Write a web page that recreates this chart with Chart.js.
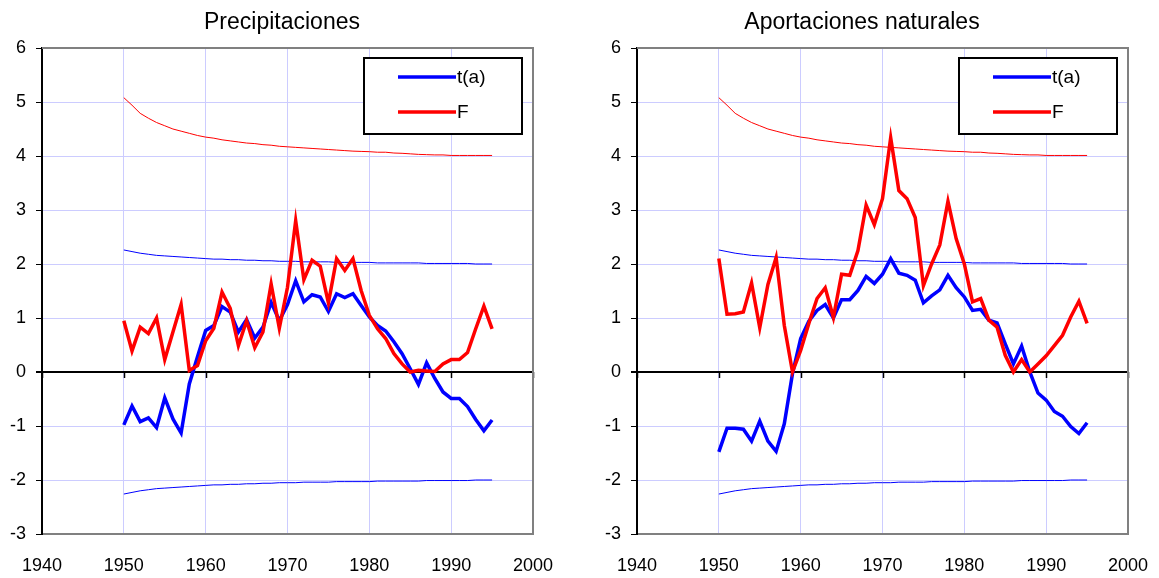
<!DOCTYPE html>
<html>
<head>
<meta charset="utf-8">
<script src="https://cdn.jsdelivr.net/npm/chart.js@4/dist/chart.umd.min.js"></script>
<style>
    body { margin: 0; background: #fff; }
    .box { position: absolute; top: 0; width: 560px; height: 578px; }
    #boxLeft { left: 0; }
    #boxRight { left: 595px; }
</style>
</head>
<body>
<div class="box" id="boxLeft"><canvas id="chartPrec"></canvas></div>
<div class="box" id="boxRight"><canvas id="chartApor"></canvas></div>
<script>
// years of the series
const years = [1950, 1951, 1952, 1953, 1954, 1955, 1956, 1957, 1958, 1959,
    1960, 1961, 1962, 1963, 1964, 1965, 1966, 1967, 1968, 1969,
    1970, 1971, 1972, 1973, 1974, 1975, 1976, 1977, 1978, 1979,
    1980, 1981, 1982, 1983, 1984, 1985, 1986, 1987, 1988, 1989,
    1990, 1991, 1992, 1993, 1994, 1995];

const xTicks = [1940, 1950, 1960, 1970, 1980, 1990, 2000];
const yTicks = [-3, -2, -1, 0, 1, 2, 3, 4, 5, 6];

// Precipitaciones
const precT = [-0.98, -0.63, -0.92, -0.85, -1.03, -0.48, -0.87, -1.13, -0.22, 0.28,
    0.77, 0.86, 1.21, 1.11, 0.74, 0.97, 0.63, 0.83, 1.29, 0.95,
    1.25, 1.69, 1.30, 1.43, 1.39, 1.12, 1.45, 1.38, 1.45, 1.23,
    1.02, 0.86, 0.76, 0.56, 0.34, 0.06, -0.23, 0.17, -0.12, -0.37,
    -0.49, -0.49, -0.64, -0.88, -1.09, -0.89];
const precF = [0.95, 0.39, 0.83, 0.71, 1.00, 0.23, 0.74, 1.25, 0.03, 0.12,
    0.58, 0.81, 1.48, 1.18, 0.49, 0.95, 0.45, 0.74, 1.63, 0.81,
    1.57, 2.80, 1.71, 2.07, 1.96, 1.28, 2.10, 1.88, 2.10, 1.51,
    1.05, 0.80, 0.62, 0.34, 0.15, 0.00, 0.03, 0.02, 0.01, 0.15,
    0.23, 0.23, 0.36, 0.80, 1.22, 0.80];

// Aportaciones naturales
const aporT = [-1.48, -1.04, -1.04, -1.06, -1.28, -0.91, -1.28, -1.47, -0.96, -0.03,
    0.62, 0.94, 1.14, 1.25, 1.00, 1.34, 1.34, 1.51, 1.77, 1.64,
    1.81, 2.10, 1.83, 1.79, 1.70, 1.28, 1.41, 1.52, 1.79, 1.56,
    1.39, 1.14, 1.16, 0.96, 0.91, 0.52, 0.15, 0.48, 0.00, -0.39,
    -0.52, -0.73, -0.82, -1.01, -1.14, -0.94];
const aporF = [2.10, 1.07, 1.08, 1.11, 1.65, 0.82, 1.62, 2.12, 0.86, 0.00,
    0.40, 0.90, 1.36, 1.56, 1.01, 1.81, 1.79, 2.25, 3.09, 2.73,
    3.21, 4.34, 3.36, 3.21, 2.86, 1.60, 2.00, 2.35, 3.16, 2.47,
    2.00, 1.30, 1.36, 0.96, 0.83, 0.31, 0.00, 0.23, 0.00, 0.15,
    0.30, 0.49, 0.68, 1.02, 1.31, 0.90];

// critical values (same for both charts)
const fCrit = [5.08, 4.94, 4.79, 4.70, 4.62, 4.56, 4.50, 4.46, 4.42, 4.38,
    4.35, 4.33, 4.30, 4.28, 4.26, 4.24, 4.23, 4.21, 4.20, 4.18,
    4.17, 4.16, 4.15, 4.14, 4.13, 4.12, 4.11, 4.10, 4.09, 4.085,
    4.08, 4.07, 4.07, 4.055, 4.05, 4.04, 4.03, 4.025, 4.02, 4.02,
    4.01, 4.01, 4.01, 4.01, 4.01, 4.01];
const tCritUp = [2.26, 2.23, 2.20, 2.18, 2.16, 2.15, 2.14, 2.13, 2.12, 2.11,
    2.10, 2.09, 2.09, 2.08, 2.08, 2.07, 2.07, 2.06, 2.06, 2.05,
    2.05, 2.05, 2.04, 2.04, 2.04, 2.04, 2.03, 2.03, 2.03, 2.03,
    2.03, 2.02, 2.02, 2.02, 2.02, 2.02, 2.02, 2.01, 2.01, 2.01,
    2.01, 2.01, 2.01, 2.00, 2.00, 2.00];
const tCritLow = [-2.26, -2.23, -2.20, -2.18, -2.16, -2.15, -2.14, -2.13, -2.12, -2.11,
    -2.10, -2.09, -2.09, -2.08, -2.08, -2.07, -2.07, -2.06, -2.06, -2.05,
    -2.05, -2.05, -2.04, -2.04, -2.04, -2.04, -2.03, -2.03, -2.03, -2.03,
    -2.03, -2.02, -2.02, -2.02, -2.02, -2.02, -2.02, -2.01, -2.01, -2.01,
    -2.01, -2.01, -2.01, -2.00, -2.00, -2.00];

const BLUE = "#0000ff";
const RED = "#ff0000";
const GRID = "#ccccff";
const FONT = "'Liberation Sans', Arial, sans-serif";

function points(values) {
    return years.map((y, i) => ({ x: y, y: values[i] }));
}

// title drawn by hand so it can sit where Excel put it
const titlePlugin = {
    id: "sheetTitle",
    afterDraw(chart) {
        const o = chart.options.plugins.sheetTitle;
        const c = chart.ctx;
        c.save();
        c.fillStyle = "#000";
        c.font = "23px " + FONT;
        c.textAlign = "center";
        c.textBaseline = "alphabetic";
        c.fillText(o.text, o.x, 29);
        c.restore();
    }
};

// gray frame on top/right and small ticks on the zero line
const framePlugin = {
    id: "frame",
    beforeDatasetsDraw(chart) {
        const c = chart.ctx, a = chart.chartArea;
        const xs = chart.scales.x, ys = chart.scales.y;
        const y0 = ys.getPixelForValue(0);
        c.save();
        c.strokeStyle = "#000";
        c.lineWidth = 1.5;
        xTicks.forEach(t => {
            const px = Math.round(xs.getPixelForValue(t)) + 0.5;
            c.beginPath();
            c.moveTo(px, y0);
            c.lineTo(px, y0 + 6);
            c.stroke();
        });
        c.strokeStyle = "#808080";
        c.lineWidth = 2;
        c.beginPath();
        c.moveTo(a.left, a.top);
        c.lineTo(a.right, a.top);
        c.lineTo(a.right, a.bottom);
        c.stroke();
        c.restore();
    }
};

// legend box inside the plot, top right
const legendPlugin = {
    id: "boxLegend",
    afterDraw(chart) {
        const c = chart.ctx, a = chart.chartArea;
        const w = 158, h = 76;
        const left = a.right - 11 - w, top = a.top + 10;
        c.save();
        c.fillStyle = "#fff";
        c.fillRect(left, top, w, h);
        c.strokeStyle = "#000";
        c.lineWidth = 2;
        c.strokeRect(left, top, w, h);
        const items = chart.data.datasets.filter(d => d.showInBox);
        items.sort((p, q) => p.boxRow - q.boxRow); // t(a) first, then F
        items.forEach((d, i) => {
            const yy = top + 19 + i * 35;
            c.strokeStyle = d.borderColor;
            c.lineWidth = 3.5;
            c.beginPath();
            c.moveTo(left + 34, yy);
            c.lineTo(left + 92, yy);
            c.stroke();
            c.fillStyle = "#000";
            c.font = "19px " + FONT;
            c.textAlign = "left";
            c.textBaseline = "middle";
            c.fillText(d.label, left + 93, yy + 1);
        });
        c.restore();
    }
};

function makeChart(id, title, titleX, tVals, fVals) {
    const ctx = document.getElementById(id).getContext("2d");
    return new Chart(ctx, {
        type: "line",
        data: {
            datasets: [
                { label: "F", data: points(fVals), borderColor: RED, borderWidth: 3.5, showInBox: true, boxRow: 1, order: 1 },
                { label: "t(a)", data: points(tVals), borderColor: BLUE, borderWidth: 3.5, showInBox: true, boxRow: 0, order: 2 },
                { label: "Fcrit", data: points(fCrit), borderColor: RED, borderWidth: 1, order: 3 },
                { label: "tcrit+", data: points(tCritUp), borderColor: BLUE, borderWidth: 1, order: 3 },
                { label: "tcrit-", data: points(tCritLow), borderColor: BLUE, borderWidth: 1, order: 3 }
            ]
        },
        options: {
            responsive: false,
            animation: false,
            elements: { point: { radius: 0 }, line: { tension: 0, fill: false } },
            layout: { padding: { left: 0, right: 27, top: 48, bottom: 0 } },
            plugins: {
                legend: { display: false },
                tooltip: { enabled: false },
                title: { display: false },
                sheetTitle: { text: title, x: titleX }
            },
            scales: {
                x: {
                    type: "linear",
                    min: 1940,
                    max: 2000,
                    afterBuildTicks: s => { s.ticks = xTicks.map(v => ({ value: v })); },
                    afterFit: s => { s.height = 44; s.paddingLeft = 0; s.paddingRight = 0; },
                    grid: { color: GRID, lineWidth: 1, drawTicks: false },
                    border: { display: true, color: "#808080", width: 2 },
                    ticks: {
                        color: "#000",
                        padding: 21,
                        maxRotation: 0,
                        font: { family: FONT, size: 18 },
                        callback: v => String(v)
                    }
                },
                y: {
                    min: -3,
                    max: 6,
                    afterBuildTicks: s => { s.ticks = yTicks.map(v => ({ value: v })); },
                    afterFit: s => { s.width = 42; },
                    grid: {
                        color: c => (c.tick && c.tick.value === 0 ? "#000" : GRID),
                        lineWidth: c => (c.tick && c.tick.value === 0 ? 2 : 1),
                        tickColor: "#000",
                        tickLength: 6
                    },
                    border: { display: true, color: "#000", width: 2 },
                    ticks: { color: "#000", padding: 10, font: { family: FONT, size: 18 } }
                }
            }
        },
        plugins: [framePlugin, legendPlugin, titlePlugin]
    });
}

document.addEventListener("DOMContentLoaded", () => {
    ["chartPrec", "chartApor"].forEach(id => {
        const cv = document.getElementById(id);
        cv.width = 560;
        cv.height = 578;
    });
    makeChart("chartPrec", "Precipitaciones", 282, precT, precF);
    makeChart("chartApor", "Aportaciones naturales", 267, aporT, aporF);
});
</script>
</body>
</html>
